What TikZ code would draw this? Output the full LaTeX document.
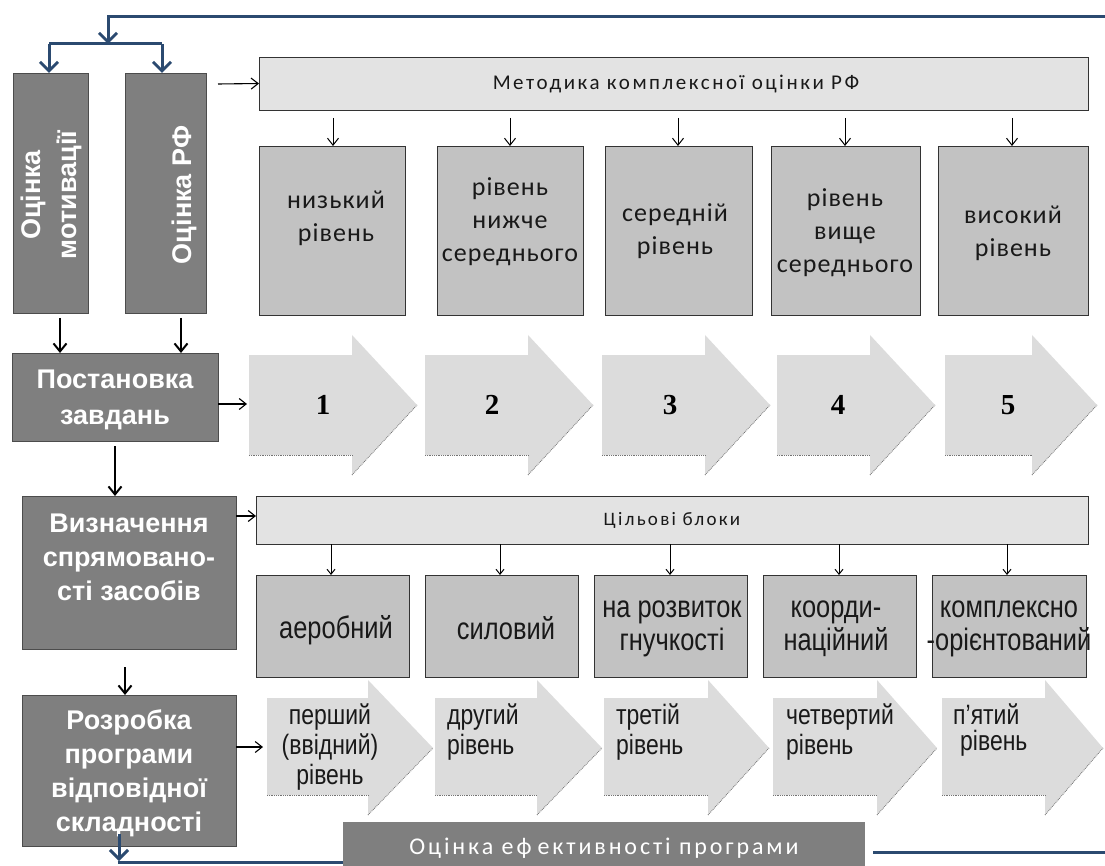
\documentclass[tikz,border=0pt]{standalone}
\usepackage{fontspec}
\setmainfont{Liberation Sans}
\newfontfamily\calfont[LetterSpace=4]{Carlito}
\newfontfamily\calwide[LetterSpace=12]{Carlito}
\newfontfamily\narrowfont[FakeStretch=0.82]{Liberation Sans}
\newfontfamily\numfont{Liberation Serif}
\usetikzlibrary{arrows.meta}
\definecolor{darkfill}{HTML}{7F7F7F}
\definecolor{levelfill}{HTML}{C2C2C2}
\definecolor{barfill}{HTML}{E3E3E3}
\definecolor{arrowfill}{HTML}{DCDCDC}
\definecolor{navy}{HTML}{2B4A70}
\tikzset{
  darkbox/.style={draw=black!70, fill=darkfill, line width=0.9pt, inner sep=0pt, outer sep=0pt, anchor=north west},
  lvlbox/.style={draw=black!80, fill=levelfill, line width=0.9pt, inner sep=0pt, outer sep=0pt, anchor=north west},
  barbox/.style={draw=black!80, fill=barfill, line width=0.9pt, inner sep=0pt, outer sep=0pt, anchor=north west},
  darktext/.style={text=white, font=\bfseries\fontsize{27}{36}\selectfont, align=center, inner sep=0pt},
  lvltext/.style={text=black!90, font=\calfont\fontsize{26}{33}\selectfont, align=center, inner sep=0pt},
  bartext/.style={text=black!90, font=\calwide\fontsize{21}{24}\selectfont, inner sep=0pt},
  blocktext/.style={text=black!90, font=\narrowfont\fontsize{31}{33}\selectfont, align=center, inner sep=0pt},
  steptext/.style={text=black!90, font=\narrowfont\fontsize{28}{30}\selectfont, inner sep=0pt},
  numtext/.style={text=black, font=\numfont\bfseries\fontsize{29}{30}\selectfont, inner sep=0pt},
  bigarrow/.style={fill=arrowfill, draw=none},
  arrowshade/.style={draw=black!55, densely dotted, line width=0.8pt},
  thinarrow/.style={draw=black, line width=1.1pt, -{Straight Barb[length=7pt,width=11pt]}},
  thickarrow/.style={draw=black, line width=2pt, -{Straight Barb[length=8pt,width=13pt]}},
  navyline/.style={draw=navy, line width=3pt},
  navyarrow/.style={draw=navy, line width=3pt, -{Straight Barb[length=9pt,width=18pt]}}
}
\begin{document}
\begin{tikzpicture}[x=1pt,y=-1pt]
\useasboundingbox (0,0) rectangle (1105,866);
\clip (0,0) rectangle (1105,866);
\fill[white] (0,0) rectangle (1105,866);

% ---- big arrows row 1
\foreach \xa/\xh/\xt in {249/352/417, 425/528/593, 602/705/770, 777/870/935, 945/1032/1097}{
  \fill[bigarrow] (\xa,355) -- (\xh,355) -- (\xh,335) -- (\xt,405) -- (\xh,475) -- (\xh,455) -- (\xa,455) -- cycle;
  \draw[arrowshade] (\xa,455) -- (\xh,455);
  \draw[arrowshade] (\xh,475) -- (\xt,405);
}
\node[numtext] (n1) at (323,405) {1};
\node[numtext] (n2) at (492,405) {2};
\node[numtext] (n3) at (670,405) {3};
\node[numtext] (n4) at (838,405) {4};
\node[numtext] (n5) at (1008,405) {5};
\coordinate (a1in) at (247,404);

% ---- arrows row 2
\foreach \xa/\xh/\xt in {267/368/433, 435/537/602, 604/708/769, 773/877/937, 942/1045/1103}{
  \fill[bigarrow] (\xa,698) -- (\xh,698) -- (\xh,680) -- (\xt,748) -- (\xh,815) -- (\xh,795) -- (\xa,795) -- cycle;
  \draw[arrowshade] (\xa,795) -- (\xh,795);
  \draw[arrowshade] (\xh,815) -- (\xt,748);
}
\node[steptext, align=center] (s1) at (330,747) {перший\\(ввідний)\\рівень};
\node[steptext, align=left, anchor=west] (s2) at (447,732) {другий\\рівень};
\node[steptext, align=left, anchor=west] (s3) at (616,732) {третій\\рівень};
\node[steptext, align=left, anchor=west] (s4) at (786,732) {четвертий\\рівень};
\node[steptext, align=left, anchor=west, font=\narrowfont\fontsize{28}{26}\selectfont] (s5) at (953,730) {п’ятий\\\hspace*{7pt}рівень};
\coordinate (b1in) at (263,747);

% ---- left dark boxes
\node[darkbox, minimum width=75pt, minimum height=240pt] (mot) at (13,73) {};
\node[darkbox, minimum width=81pt, minimum height=240pt] (rf) at (125,73) {};
\node[darktext, rotate=90] at (51,195) {Оцінка\\мотивації};
\node[darktext, rotate=90] at (184,195) {Оцінка РФ};

\node[darkbox, minimum width=206pt, minimum height=88pt] (post) at (12,353) {};
\node[darktext] at (115,400) {Постановка\\завдань};

\node[darkbox, minimum width=214pt, minimum height=153pt] (viz) at (22,496) {};
\node[darktext, font=\bfseries\fontsize{27}{34}\selectfont] at (129,557) {Визначення\\спрямовано-\\сті засобів};

\node[darkbox, minimum width=214pt, minimum height=151pt] (rozr) at (22,695) {};
\node[darktext, font=\bfseries\fontsize{27}{34}\selectfont] at (129,773) {Розробка\\програми\\відповідної\\складності};

% ---- methodology bar and level boxes
\node[barbox, minimum width=829pt, minimum height=53pt] (metod) at (259,57) {};
\node[bartext] at (676,84) {Методика комплексної оцінки РФ};

\node[lvlbox, minimum width=146pt, minimum height=169pt] (L1) at (259,146) {};
\node[lvlbox, minimum width=146pt, minimum height=169pt] (L2) at (437,146) {};
\node[lvlbox, minimum width=147pt, minimum height=169pt] (L3) at (605,146) {};
\node[lvlbox, minimum width=149pt, minimum height=169pt] (L4) at (771,146) {};
\node[lvlbox, minimum width=150pt, minimum height=169pt] (L5) at (938,146) {};
\node[lvltext] at (336,218) {низький\\рівень};
\node[lvltext] at (510,222) {рівень\\нижче\\середнього};
\node[lvltext] at (675,231) {середній\\рівень};
\node[lvltext] at (845,233) {рівень\\вище\\середнього};
\node[lvltext] at (1013,233) {високий\\рівень};

% ---- target blocks
\node[barbox, minimum width=832pt, minimum height=48pt] (tsil) at (256,496) {};
\node[bartext, font=\calwide\fontsize{19}{22}\selectfont] at (672,520) {Цільові блоки};

\node[lvlbox, minimum width=153pt, minimum height=102pt] (T1) at (256,575) {};
\node[lvlbox, minimum width=153pt, minimum height=102pt] (T2) at (425,575) {};
\node[lvlbox, minimum width=153pt, minimum height=102pt] (T3) at (594,575) {};
\node[lvlbox, minimum width=153pt, minimum height=102pt] (T4) at (763,575) {};
\node[lvlbox, minimum width=154pt, minimum height=102pt] (T5) at (932,575) {};
\node[blocktext] at (336,630) {аеробний};
\node[blocktext] at (506,628) {силовий};
\node[blocktext] at (672,629) {на розвиток\\гнучкості};
\node[blocktext] at (836,629) {коорди-\\наційний};
\node[blocktext] at (1009,629) {комплексно\\-орієнтований};

% ---- evaluation box
\node[darkbox, draw=none, minimum width=522pt, minimum height=60pt] (eval) at (343,822) {};
\node[text=white, font=\calwide\fontsize{24}{26}\selectfont, inner sep=0pt] at (604,848) {Оцінка еф\hspace{6pt}ективності програми};

% ---- black connectors
\draw[thinarrow] (218,84) -- (metod.west);
\foreach \i/\x in {1/333,2/510,3/678,4/845,5/1012}{
  \draw[thinarrow, line width=1pt] (\x,118) -- (L\i.north -| \x,0);
}
\foreach \i/\x in {1/331,2/500,3/670,4/839,5/1007}{
  \draw[thinarrow, line width=1pt, -{Straight Barb[length=5pt,width=8pt]}] (tsil.south -| \x,0) -- (T\i.north -| \x,0);
}
\draw[thickarrow] (60,318) -- (post.north -| 60,0);
\draw[thickarrow] (181,318) -- (post.north -| 181,0);
\draw[thinarrow] (post.east |- 0,404) -- (a1in);
\draw[thickarrow] (115,446) -- (viz.north -| 115,0);
\draw[thinarrow] (viz.east |- 0,516) -- (tsil.west |- 0,516);
\draw[thickarrow] (125,667) -- (rozr.north -| 125,0);
\draw[thinarrow] (rozr.east |- 0,747) -- (b1in);

% ---- navy feedback lines
\coordinate (topR) at (1105,17);
\coordinate (topL) at (108,17);
\coordinate (split) at (108,44);
\draw[navyline] (topR) -- (topL) -- (108,36);
\draw[navyarrow] (108,30) -- (108,44);
\draw[navyline] (49,44) -- (162,44);
\draw[navyarrow] (49,44) -- (mot.north -| 49,0);
\draw[navyarrow] (162,44) -- (rf.north -| 162,0);
\draw[navyarrow] (119,834) -- (119,861);
\draw[navyline] (117.5,862) -- (eval.west |- 0,862);
\draw[navyline] (873,852) -- (1105,852);
\end{tikzpicture}
\end{document}
